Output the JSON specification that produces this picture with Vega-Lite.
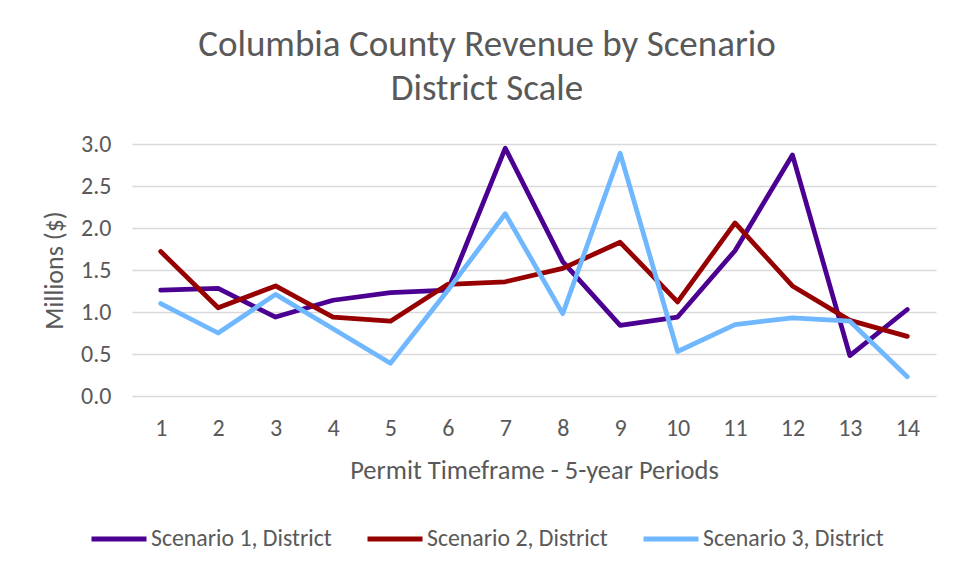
{
  "$schema": "https://vega.github.io/schema/vega-lite/v6.json",
  "autosize": {"type": "none"},
  "width": 804,
  "height": 252,
  "padding": {"left": 132, "top": 144, "right": 28, "bottom": 185},
  "background": "white",
  "title": {
    "text": ["Columbia County Revenue by Scenario", "District Scale"],
    "fontSize": 37,
    "font": "Carlito, Lato, sans-serif",
    "fontWeight": "normal",
    "color": "#595959",
    "anchor": "middle",
    "dx": -47,
    "offset": 24,
    "lineHeight": 44
  },
  "data": {
    "values": [
      {"period": 1, "scenario": "Scenario 1, District", "value": 1.26},
      {"period": 2, "scenario": "Scenario 1, District", "value": 1.28},
      {"period": 3, "scenario": "Scenario 1, District", "value": 0.94},
      {"period": 4, "scenario": "Scenario 1, District", "value": 1.14},
      {"period": 5, "scenario": "Scenario 1, District", "value": 1.23},
      {"period": 6, "scenario": "Scenario 1, District", "value": 1.26},
      {"period": 7, "scenario": "Scenario 1, District", "value": 2.95},
      {"period": 8, "scenario": "Scenario 1, District", "value": 1.60},
      {"period": 9, "scenario": "Scenario 1, District", "value": 0.84},
      {"period": 10, "scenario": "Scenario 1, District", "value": 0.94},
      {"period": 11, "scenario": "Scenario 1, District", "value": 1.73},
      {"period": 12, "scenario": "Scenario 1, District", "value": 2.87},
      {"period": 13, "scenario": "Scenario 1, District", "value": 0.48},
      {"period": 14, "scenario": "Scenario 1, District", "value": 1.03},
      {"period": 1, "scenario": "Scenario 2, District", "value": 1.72},
      {"period": 2, "scenario": "Scenario 2, District", "value": 1.05},
      {"period": 3, "scenario": "Scenario 2, District", "value": 1.31},
      {"period": 4, "scenario": "Scenario 2, District", "value": 0.94},
      {"period": 5, "scenario": "Scenario 2, District", "value": 0.89},
      {"period": 6, "scenario": "Scenario 2, District", "value": 1.33},
      {"period": 7, "scenario": "Scenario 2, District", "value": 1.36},
      {"period": 8, "scenario": "Scenario 2, District", "value": 1.52},
      {"period": 9, "scenario": "Scenario 2, District", "value": 1.83},
      {"period": 10, "scenario": "Scenario 2, District", "value": 1.12},
      {"period": 11, "scenario": "Scenario 2, District", "value": 2.06},
      {"period": 12, "scenario": "Scenario 2, District", "value": 1.31},
      {"period": 13, "scenario": "Scenario 2, District", "value": 0.90},
      {"period": 14, "scenario": "Scenario 2, District", "value": 0.71},
      {"period": 1, "scenario": "Scenario 3, District", "value": 1.10},
      {"period": 2, "scenario": "Scenario 3, District", "value": 0.75},
      {"period": 3, "scenario": "Scenario 3, District", "value": 1.21},
      {"period": 4, "scenario": "Scenario 3, District", "value": 0.80},
      {"period": 5, "scenario": "Scenario 3, District", "value": 0.39},
      {"period": 6, "scenario": "Scenario 3, District", "value": 1.26},
      {"period": 7, "scenario": "Scenario 3, District", "value": 2.17},
      {"period": 8, "scenario": "Scenario 3, District", "value": 0.98},
      {"period": 9, "scenario": "Scenario 3, District", "value": 2.89},
      {"period": 10, "scenario": "Scenario 3, District", "value": 0.53},
      {"period": 11, "scenario": "Scenario 3, District", "value": 0.85},
      {"period": 12, "scenario": "Scenario 3, District", "value": 0.93},
      {"period": 13, "scenario": "Scenario 3, District", "value": 0.89},
      {"period": 14, "scenario": "Scenario 3, District", "value": 0.23}
    ]
  },
  "mark": {"type": "line", "strokeWidth": 4.75, "strokeJoin": "round", "strokeCap": "round"},
  "encoding": {
    "x": {
      "field": "period",
      "type": "ordinal",
      "sort": null,
      "scale": {"type": "point", "padding": 0.5},
      "axis": {
        "title": "Permit Timeframe - 5-year Periods",
        "labelAngle": 0,
        "ticks": false,
        "domain": false,
        "grid": false,
        "labelPadding": 20,
        "labelFontSize": 24,
        "labelColor": "#595959",
        "labelFont": "Carlito, Lato, sans-serif",
        "titleFontSize": 26.5,
        "titleFontWeight": "normal",
        "titleColor": "#595959",
        "titleFont": "Carlito, Lato, sans-serif",
        "titlePadding": 17
      }
    },
    "y": {
      "field": "value",
      "type": "quantitative",
      "scale": {"domain": [0, 3], "nice": false},
      "axis": {
        "title": "Millions ($)",
        "values": [0, 0.5, 1, 1.5, 2, 2.5, 3],
        "format": ".1f",
        "ticks": false,
        "domain": false,
        "grid": true,
        "gridColor": "#d9d9d9",
        "gridWidth": 1.5,
        "labelPadding": 21,
        "labelFontSize": 24,
        "labelColor": "#595959",
        "labelFont": "Carlito, Lato, sans-serif",
        "titleFontSize": 26,
        "titleFontWeight": "normal",
        "titleColor": "#595959",
        "titleFont": "Carlito, Lato, sans-serif",
        "titlePadding": 13
      }
    },
    "color": {
      "field": "scenario",
      "type": "nominal",
      "scale": {
        "domain": ["Scenario 1, District", "Scenario 2, District", "Scenario 3, District"],
        "range": ["#4B0092", "#960000", "#6FB7FF"]
      },
      "legend": {
        "title": null,
        "orient": "none",
        "direction": "horizontal",
        "legendX": -43,
        "legendY": 365,
        "symbolType": "stroke",
        "symbolSize": 3025,
        "symbolStrokeWidth": 5,
        "labelFontSize": 23.8,
        "labelLimit": 400,
        "labelColor": "#595959",
        "labelFont": "Carlito, Lato, sans-serif",
        "labelOffset": 2,
        "columnPadding": 25
      }
    }
  },
  "config": {"view": {"stroke": null}}
}
